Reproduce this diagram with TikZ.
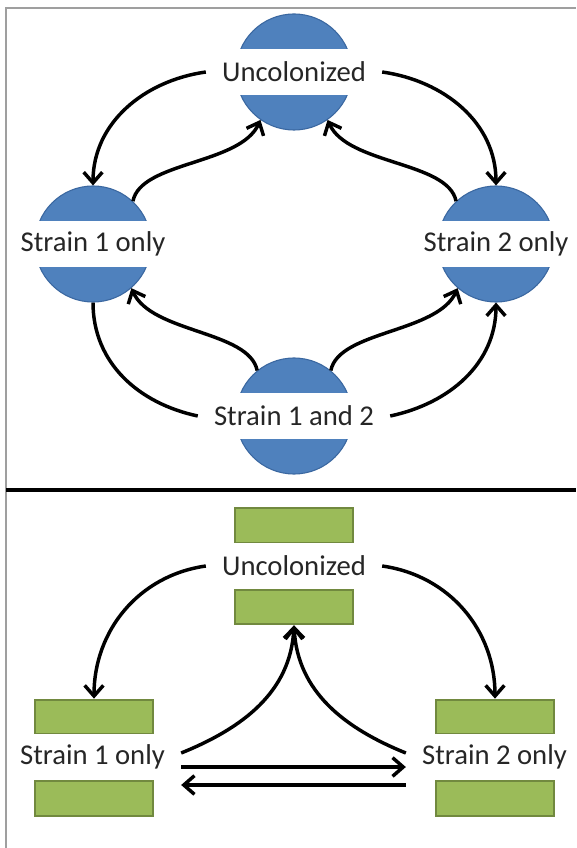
\documentclass[tikz,border=0pt]{standalone}
\usepackage{fontspec}
\setmainfont{Carlito}
\usetikzlibrary{arrows.meta}
\definecolor{statefill}{HTML}{4F81BD}
\definecolor{stateline}{HTML}{3A67A0}
\definecolor{boxfill}{HTML}{9BBB59}
\definecolor{boxline}{HTML}{71893F}

\tikzset{
  state/.style={circle,draw=stateline,fill=statefill,line width=0.8pt,minimum size=87pt,inner sep=0pt},
  box/.style={rectangle,draw=boxline,fill=boxfill,line width=1.5pt,minimum width=88.5pt,minimum height=26pt,inner sep=0pt},
  lbl/.style={fill=white,inner xsep=12pt,inner ysep=0pt,minimum height=35pt,text=black!85,font=\fontsize{21.5}{25}\selectfont},
  link/.style={line width=2.6pt,-{Straight Barb[length=8pt,width=14pt]}},
}

\begin{document}
\begin{tikzpicture}[x=0.75pt,y=0.75pt]
   \useasboundingbox (0,0) rectangle (576,-848);

   % circles
   \node[state] (unc) at (294,-72) {};
   \node[lbl] (uncl) at (unc) {Uncolonized};
   \node[state] (s1) at (93,-244) {};
   \node[lbl] (s1l) at (s1) {Strain 1 only};
   \node[state] (s2) at (496,-244) {};
   \node[lbl] (s2l) at (s2) {Strain 2 only};
   \node[state] (both) at (294,-416) {};
   \node[lbl] (bothl) at (both) {Strain 1 and 2};

   \draw[link] (uncl.west) to[out=188,in=90] (s1.north);
   \draw[link] (uncl.east) to[out=-8,in=90] (s2.north);
   \draw[link] (s1.47) .. controls +(8,40) and +(-20,-45) .. (unc.235);
   \draw[link] (s2.133) .. controls +(-8,40) and +(20,-45) .. (unc.305);
   \draw[link] (both.129) .. controls +(-8,40) and +(20,-45) .. (s1.311);
   \draw[link] (both.51) .. controls +(8,40) and +(-20,-45) .. (s2.229);
   \draw[link,-] (s1.south) to[out=-90,in=168] (bothl.west);
   \draw[link] (bothl.east) to[out=12,in=-90] (s2.south);

   % boxes
   \node[box] (ua) at (294,-525.5) {};
   \node[box] (ub) at (294,-607) {};
   \node[lbl] (ul) at (294,-566) {Uncolonized};
   \node[box] (aa) at (94,-717) {};
   \node[box] (ab) at (94,-798.5) {};
   \node[lbl] (al) at (92.5,-757) {Strain 1 only};
   \node[box] (ba) at (495,-717) {};
   \node[box] (bb) at (495,-798.5) {};
   \node[lbl] (bl) at (494.5,-757) {Strain 2 only};

   \draw[link] (ul.west) to[out=188,in=90] (aa.north);
   \draw[link] (ul.east) to[out=-8,in=90] (ba.north);
   \draw[link] ([yshift=3pt]al.east) to[out=22,in=267] (ub.south);
   \draw[link] ([yshift=3pt]bl.west) to[out=158,in=273] (ub.south);
   \draw[link] ([yshift=-7.5pt]al.east) -- ([yshift=-7.5pt]bl.west);
   \draw[link] ([yshift=-21pt]bl.west) -- ([yshift=-21pt]al.east);

   \draw[gray!75,line width=0.9pt] (6,-848) -- (6,-8) -- (576,-8);
   \draw[line width=2.3pt] (6,-490) -- (576,-490);
\end{tikzpicture}
\end{document}
